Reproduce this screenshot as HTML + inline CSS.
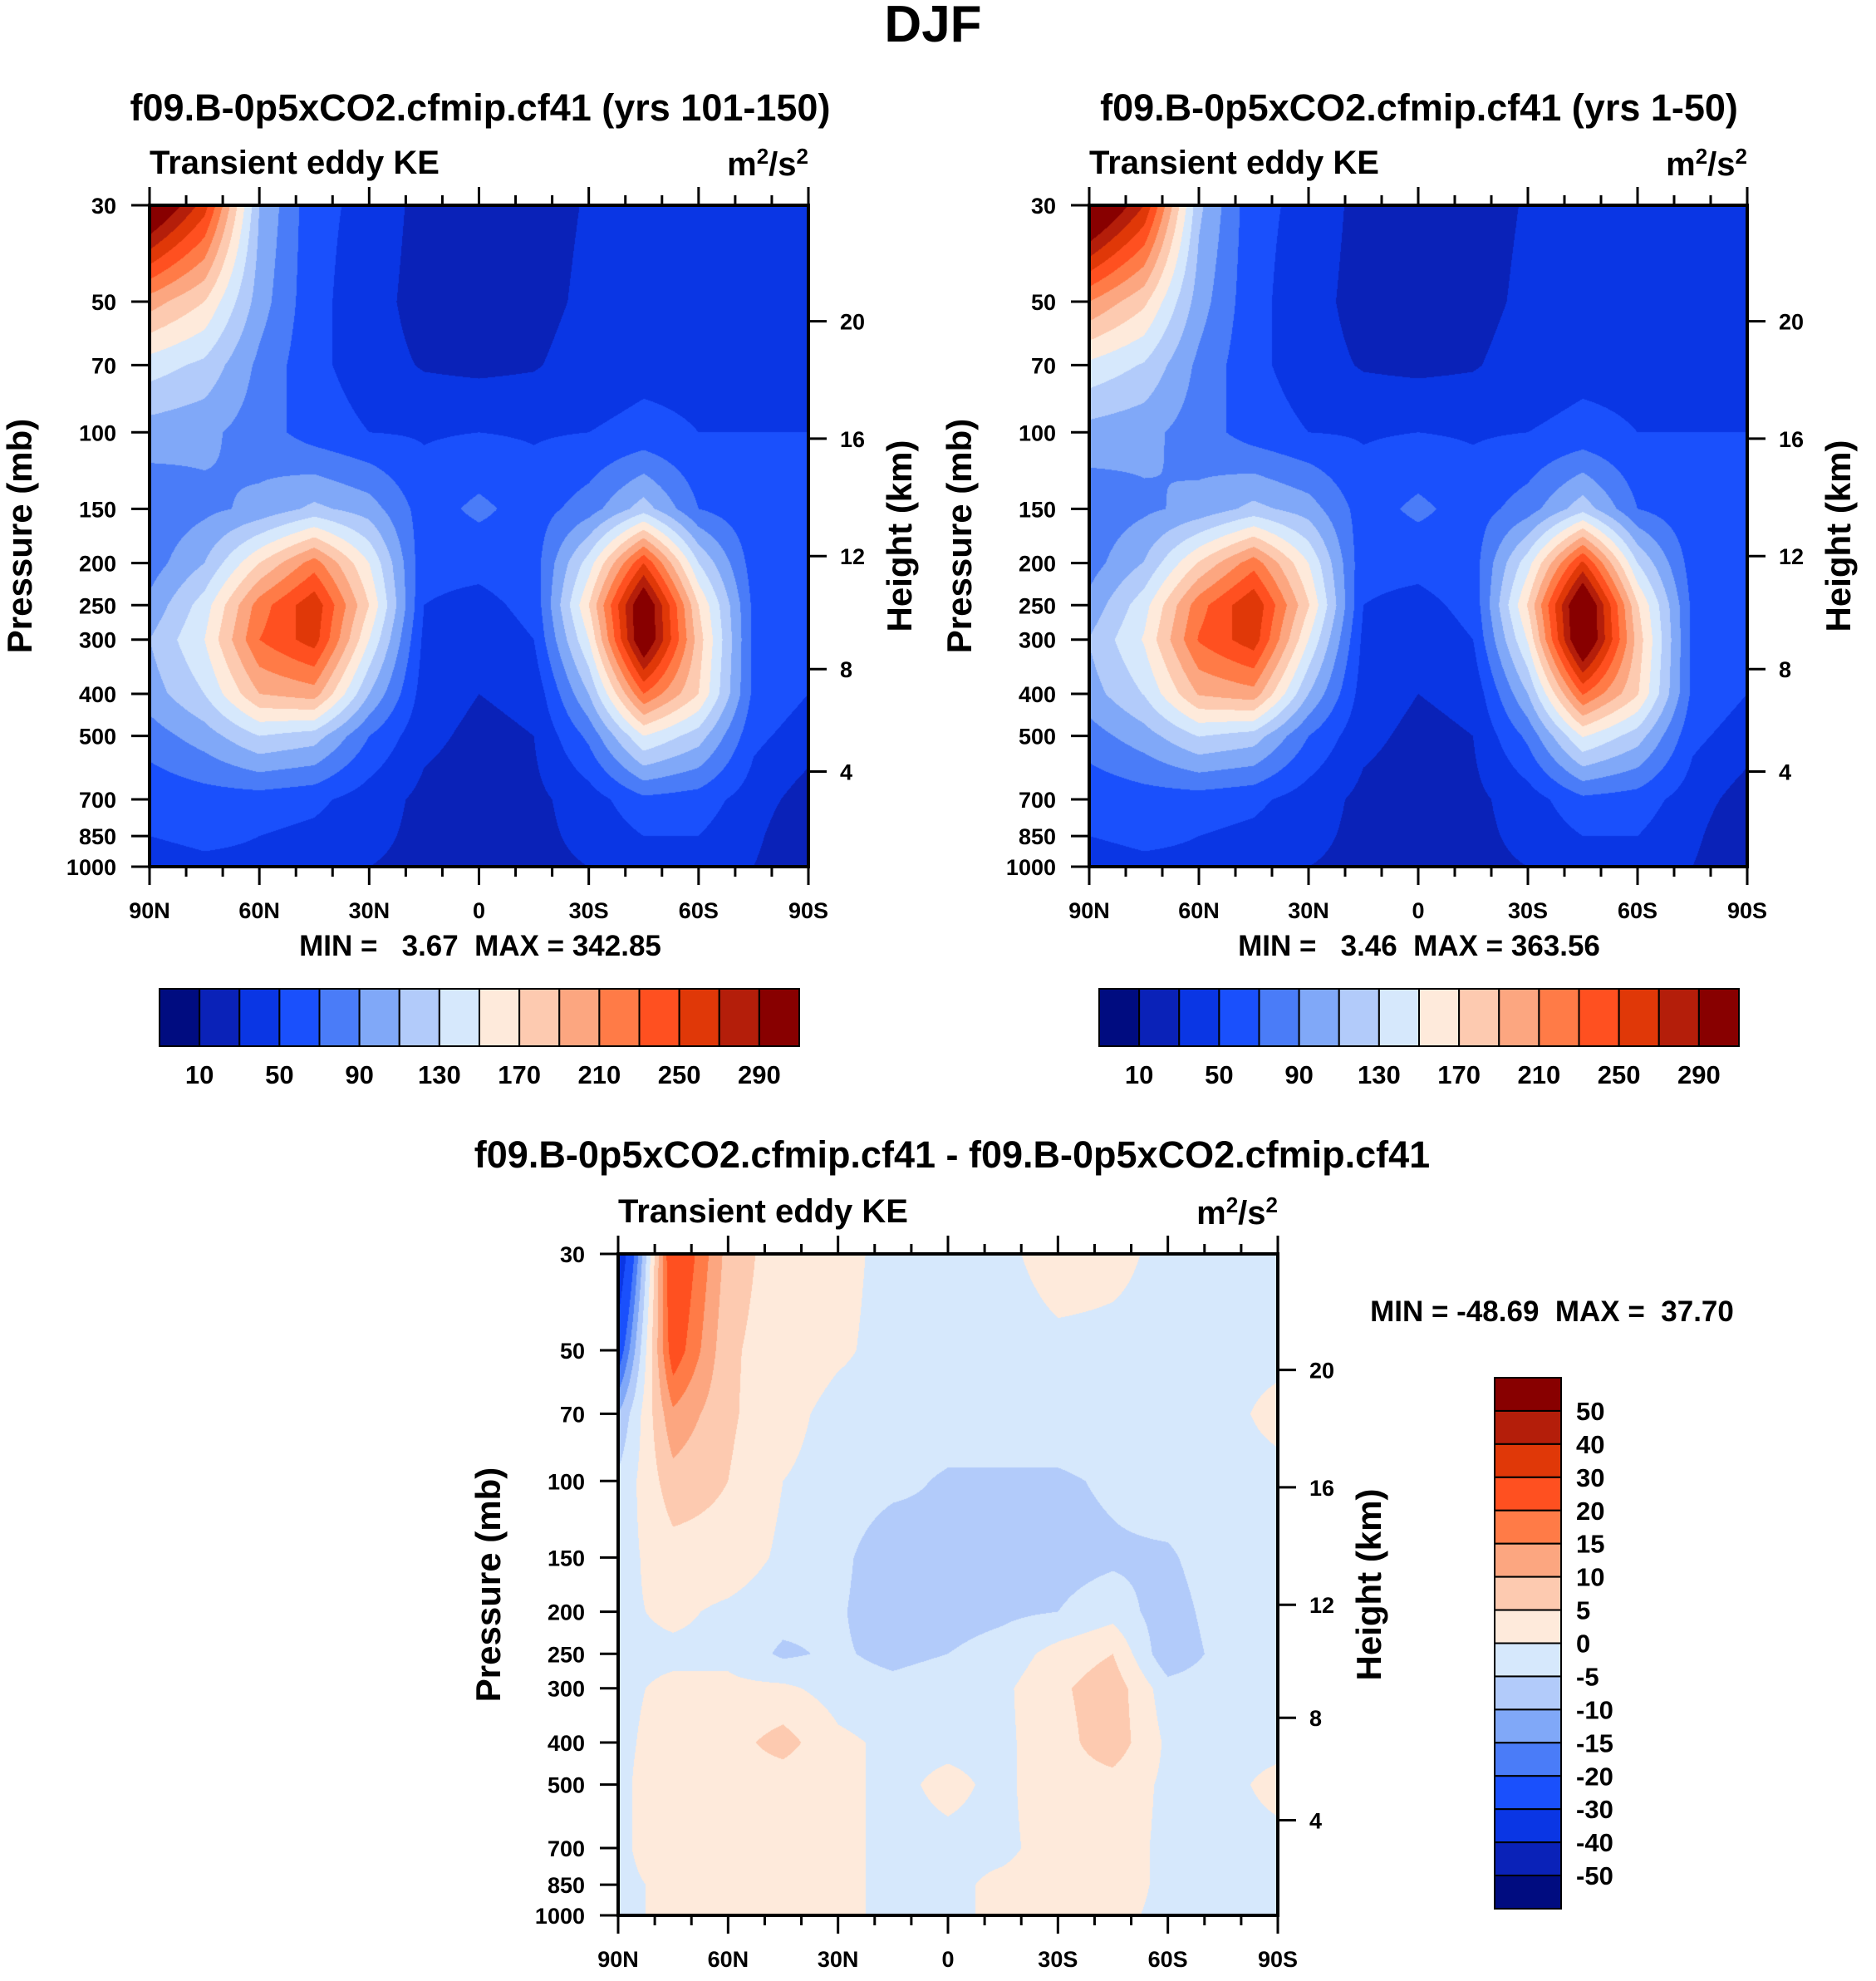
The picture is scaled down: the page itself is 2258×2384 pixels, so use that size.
<!DOCTYPE html>
<html><head><meta charset="utf-8">
<style>
html,body{margin:0;padding:0;background:#fff;}
body{width:2258px;height:2384px;position:relative;overflow:hidden;font-family:"Liberation Sans",sans-serif;}
canvas{position:absolute;}
svg{position:absolute;left:0;top:0;}
text{font-family:"Liberation Sans",sans-serif;font-weight:bold;fill:#000;white-space:pre;}
</style></head>
<body>
<canvas id="c1"></canvas>
<canvas id="c2"></canvas>
<canvas id="c3"></canvas>
<svg id="s" width="2258" height="2384"></svg>
<script>
// ---- data ----
const lats=[90,75,60,45,30,15,0,-15,-30,-45,-60,-75,-90];
const plevs=[30,50,70,100,150,200,250,300,400,500,700,850,1000];
const keLevels=[10,30,50,70,90,110,130,150,170,190,210,230,250,270,290];
const keLabels=["10","50","90","130","170","210","250","290"];
const diffLevels=[-50,-40,-30,-20,-15,-10,-5,0,5,10,15,20,30,40,50];
const colors=["#000c80","#0a22b8","#0a36e4","#1a50fc","#4a7cf8","#80a8f8","#b2cbfa","#d6e8fc","#feeadb","#fdcab0","#fca680","#ff7b47","#ff5020","#e03808","#b41e0a","#880000"];
const ke1=[
[330,260,110,55,45,22,18,20,32,40,40,40,40],
[200,170,100,55,40,20,18,22,35,40,40,40,40],
[140,125,85,55,40,28,25,28,40,45,45,45,45],
[100,95,80,60,50,48,50,48,50,55,50,50,50],
[75,85,95,115,100,60,75,60,80,120,70,55,50],
[80,110,170,220,150,55,55,60,140,250,130,60,50],
[95,140,220,265,170,50,45,55,170,320,170,65,50],
[110,150,230,260,150,45,40,50,150,320,180,65,50],
[100,130,190,200,110,40,30,35,110,230,170,65,50],
[80,100,130,120,70,35,25,30,75,150,120,55,40],
[55,60,60,55,40,25,20,25,40,65,60,40,20],
[50,55,50,45,35,25,20,25,35,50,50,35,10],
[40,45,45,40,30,25,20,25,30,40,40,30,10]];
const ke2=[
[340,270,115,55,45,22,18,20,32,40,40,40,40],
[210,175,100,55,40,20,18,22,35,40,40,40,40],
[145,128,85,55,40,28,25,28,40,45,45,45,45],
[102,96,80,60,50,48,50,48,50,55,50,50,50],
[76,86,96,116,100,60,75,60,80,122,70,55,50],
[81,111,172,222,150,55,55,60,142,255,130,60,50],
[96,142,222,268,172,50,45,55,172,330,172,65,50],
[111,152,232,262,150,45,40,50,152,330,182,65,50],
[101,131,192,202,110,40,30,35,110,232,172,65,50],
[81,101,131,121,70,35,25,30,75,152,120,55,40],
[55,60,60,55,40,25,20,25,40,65,60,40,20],
[50,55,50,45,35,25,20,25,35,50,50,35,10],
[40,45,45,40,30,25,20,25,30,40,40,30,10]];
const diff=[
[-40,28,8,2,1,-1,-2,-1,2,1,-1,-1,-1],
[-25,24,6,2,0.5,-1,-2,-2,-1,-1,-1,-1,-1],
[-10,14,6,1,-1,-1,-1,-1,-1,-1,-1,-1,1],
[-4,8,5,0,-1,-3,-6,-6,-6,-4,-1,-1,-1],
[-2,3,3,-1,-3,-10,-7,-7,-7,-6,-6,-1,-1],
[-1,1,-1,-3,-4,-10,-7,-6,-5,-2,-8,-2,-1],
[-1,-1,-1,-6,-4,-7,-5,-3,2,5,-9,-3,-1],
[-1,1,1,1,-2,-3,-1,-1,4,8,-3,-2,-1],
[-1,2,3,7,1,-1,-1,-1,3,8,-1,-1,-1],
[-1,3,3,2,1,-1,1,-1,3,3,-1,-1,1],
[-1,3,2,2,1,-1,-1,-1,2,2,-1,-1,-1],
[-1,1,2,2,1,-1,-1,1,2,2,-1,-1,-1],
[-1,1,2,2,1,-1,-1,1,2,1,-1,-1,-1]];
const heightTicks=[20,16,12,8,4];
const heightP=[55.5,103.4,192.7,350.8,604];
const latLabels=["90N","60N","30N","0","30S","60S","90S"];

const L30=Math.log(30),L1000=Math.log(1000);
const lnp=plevs.map(Math.log);
function yOf(p,pl){return pl.y0+(Math.log(p)-L30)/(L1000-L30)*pl.h;}
function xOf(lat,pl){return pl.x0+(90-lat)/180*pl.w;}
function hex(c){return [parseInt(c.substr(1,2),16),parseInt(c.substr(3,2),16),parseInt(c.substr(5,2),16)];}
const rgb=colors.map(hex);

function drawField(id,pl,data,levels){
  const cv=document.getElementById(id);
  cv.width=pl.w;cv.height=pl.h;cv.style.left=pl.x0+'px';cv.style.top=pl.y0+'px';
  const ctx=cv.getContext('2d');const img=ctx.createImageData(pl.w,pl.h);
  for(let py=0;py<pl.h;py++){
    const lp=L30+(py+0.5)/pl.h*(L1000-L30);
    let j=0;while(j<lnp.length-2&&lp>lnp[j+1])j++;
    const fy=Math.min(1,Math.max(0,(lp-lnp[j])/(lnp[j+1]-lnp[j])));
    for(let px=0;px<pl.w;px++){
      const g=(px+0.5)/pl.w*(lats.length-1);
      const i=Math.min(lats.length-2,Math.floor(g));const fx=g-i;
      const v=(data[j][i]*(1-fx)+data[j][i+1]*fx)*(1-fy)+(data[j+1][i]*(1-fx)+data[j+1][i+1]*fx)*fy;
      let k=0;while(k<levels.length&&v>=levels[k])k++;
      const c=rgb[k];const o=(py*pl.w+px)*4;
      img.data[o]=c[0];img.data[o+1]=c[1];img.data[o+2]=c[2];img.data[o+3]=255;
    }
  }
  ctx.putImageData(img,0,0);
}
const S=document.getElementById('s');const NS='http://www.w3.org/2000/svg';
function el(tag,attrs,txt){const e=document.createElementNS(NS,tag);for(const k in attrs)e.setAttribute(k,attrs[k]);if(txt!==undefined)e.textContent=txt;S.appendChild(e);return e;}
function txt(x,y,s,size,anchor,name){const e=el('text',{x:x,y:y,'font-size':size,'text-anchor':anchor||'middle','xml:space':'preserve'},s);
  
  
  return e;}
function line(x1,y1,x2,y2,name){const e=el('line',{x1:x1,y1:y1,x2:x2,y2:y2,stroke:'#000','stroke-width':3});
  
  }

function axes(pl,tag){
  const r=el('rect',{x:pl.x0,y:pl.y0,width:pl.w,height:pl.h,fill:'none',stroke:'#000','stroke-width':4});
  
  
  for(let lat=90;lat>=-90;lat-=10){
    const x=xOf(lat,pl);const len=(lat%30===0)?22:12;
    line(x,pl.y0,x,pl.y0-len,tag+'-top-tick');
    line(x,pl.y0+pl.h,x,pl.y0+pl.h+len,tag+'-bottom-tick');
  }
  latLabels.forEach((s,i)=>{txt(pl.x0+i*pl.w/6,pl.y0+pl.h+62,s,27,'middle',tag+'-lat-label');});
  plevs.forEach(p=>{const y=yOf(p,pl);line(pl.x0,y,pl.x0-22,y,tag+'-pressure-tick');
    txt(pl.x0-40,y+10,String(p),27,'end',tag+'-pressure-label');});
  heightP.forEach((p,i)=>{const y=yOf(p,pl);line(pl.x0+pl.w,y,pl.x0+pl.w+22,y,tag+'-height-tick');
    txt(pl.x0+pl.w+38,y+10,String(heightTicks[i]),27,'start',tag+'-height-label');});
  txt(pl.x0,pl.y0-38,'Transient eddy KE',40,'start',tag+'-variable-label');
  const u=txt(pl.x0+pl.w,pl.y0-36,'',40,'end',tag+'-units-label');
  u.innerHTML='m<tspan dy="-14" font-size="26">2</tspan><tspan dy="14">/s</tspan><tspan dy="-14" font-size="26">2</tspan>';
  let a=txt(0,0,'Pressure (mb)',42,'middle',tag+'-y-axis-title');a.setAttribute('transform','translate('+(pl.x0-142)+','+(pl.y0+pl.h*0.5)+') rotate(-90)');
  a=txt(0,0,'Height (km)',42,'middle',tag+'-right-axis-title');a.setAttribute('transform','translate('+(pl.x0+pl.w+124)+','+(pl.y0+pl.h*0.5)+') rotate(-90)');
}
function hbar(x0,y0,w,h,tag){
  const bw=w/16;
  for(let k=0;k<16;k++){const r=el('rect',{x:x0+k*bw,y:y0,width:bw,height:h,fill:colors[k],stroke:'#000','stroke-width':2});
    
    }
  keLabels.forEach((s,i)=>{txt(x0+(1+2*i)*bw,y0+h+45,s,31,'middle',tag+'-colorbar-label');});
}
const P1={x0:180,y0:247,w:793,h:796},P2={x0:1311,y0:247,w:792,h:796},P3={x0:744,y0:1509,w:794,h:796};
drawField('c1',P1,ke1,keLevels);drawField('c2',P2,ke2,keLevels);drawField('c3',P3,diff,diffLevels);
axes(P1,'left');axes(P2,'right');axes(P3,'diff');
txt(1123,50,'DJF',62,'middle','figure-title');
txt(578,145,'f09.B-0p5xCO2.cfmip.cf41 (yrs 101-150)',45,'middle','left-plot-title');
txt(1708,145,'f09.B-0p5xCO2.cfmip.cf41 (yrs 1-50)',45,'middle','right-plot-title');
txt(578,1150,'MIN =   3.67  MAX = 342.85',35,'middle','left-min-max');
txt(1708,1150,'MIN =   3.46  MAX = 363.56',35,'middle','right-min-max');
hbar(192,1190,770,69,'left');hbar(1323,1190,770,69,'right');
txt(1146,1405,'f09.B-0p5xCO2.cfmip.cf41 - f09.B-0p5xCO2.cfmip.cf41',45,'middle','diff-plot-title');
txt(1868,1590,'MIN = -48.69  MAX =  37.70',35,'middle','diff-min-max');
(function(){const x0=1799,y0=1658,w=80,h=639,bh=h/16;
  for(let k=0;k<16;k++){const r=el('rect',{x:x0,y:y0+k*bh,width:w,height:bh,fill:colors[15-k],stroke:'#000','stroke-width':2});
    
    }
  for(let k=0;k<15;k++){txt(x0+w+18,y0+(k+1)*bh+11,String(diffLevels[14-k]),31,'start','diff-colorbar-label');}
})();
</script>
</body></html>
